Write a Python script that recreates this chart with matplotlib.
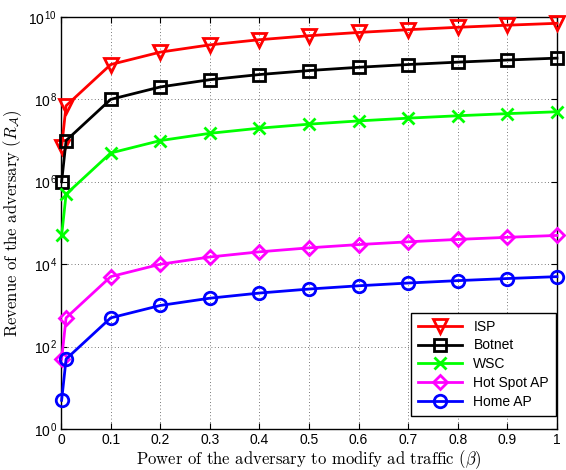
import matplotlib
matplotlib.use("Agg")
import matplotlib.pyplot as plt
from matplotlib.ticker import FixedLocator, NullLocator

plt.rcParams['font.family'] = ['Liberation Sans', 'DejaVu Sans']
plt.rcParams['mathtext.fontset'] = 'custom'
plt.rcParams['mathtext.rm'] = 'Liberation Sans'
plt.rcParams['mathtext.it'] = 'cmmi10'
plt.rcParams['mathtext.cal'] = 'cmsy10'
plt.rcParams['axes.formatter.use_mathtext'] = True

# 對手修改廣告流量的能力 (beta)
beta = [0.001, 0.01, 0.1, 0.2, 0.3, 0.4, 0.5, 0.6, 0.7, 0.8, 0.9, 1.0]

# 各類對手的收益
isp = [7e6, 7e7, 7e8, 1.4e9, 2.1e9, 2.8e9, 3.5e9, 4.2e9, 4.9e9, 5.6e9, 6.3e9, 7e9]
botnet = [1e6, 1e7, 1e8, 2e8, 3e8, 4e8, 5e8, 6e8, 7e8, 8e8, 9e8, 1e9]
wsc = [5e4, 5e5, 5e6, 1e7, 1.5e7, 2e7, 2.5e7, 3e7, 3.5e7, 4e7, 4.5e7, 5e7]
hotspot = [50, 500, 5e3, 1e4, 1.5e4, 2e4, 2.5e4, 3e4, 3.5e4, 4e4, 4.5e4, 5e4]
home = [5, 50, 500, 1e3, 1.5e3, 2e3, 2.5e3, 3e3, 3.5e3, 4e3, 4.5e3, 5e3]

series = [
    ("ISP", isp, (1, 0, 0), "v", 10),
    ("Botnet", botnet, (0, 0, 0), "s", 8),
    ("WSC", wsc, (0, 1, 0), "x", 8),
    ("Hot Spot AP", hotspot, (1, 0, 1), "D", 7),
    ("Home AP", home, (0, 0, 1), "o", 9),
]

fig = plt.figure(figsize=(5.66, 4.70), dpi=100)
ax = fig.add_axes([0.108, 0.087, 0.876, 0.877])

for label, vals, color, marker, ms in series:
    ax.plot(beta, vals, color=color, linewidth=2, marker=marker, markersize=ms,
            markerfacecolor="none", markeredgecolor=color, markeredgewidth=2,
            label=label, clip_on=False, zorder=3)

ax.set_yscale("log")
ax.set_xlim(0, 1)
ax.set_ylim(1, 1e10)
ax.xaxis.set_major_locator(FixedLocator([0, 0.1, 0.2, 0.3, 0.4, 0.5, 0.6, 0.7, 0.8, 0.9, 1]))
ax.set_xticklabels(["0", "0.1", "0.2", "0.3", "0.4", "0.5", "0.6", "0.7", "0.8", "0.9", "1"])
ax.yaxis.set_major_locator(FixedLocator([1, 1e2, 1e4, 1e6, 1e8, 1e10]))
ax.set_yticklabels([r"$10^{0}$", r"$10^{2}$", r"$10^{4}$", r"$10^{6}$", r"$10^{8}$", r"$10^{10}$"])
ax.yaxis.set_minor_locator(NullLocator())
ax.tick_params(direction="in", which="both", top=True, right=True, labelsize=10,
               length=4, pad=3)
ax.grid(True, linestyle=(0, (1, 3)), color="black", linewidth=0.6, alpha=0.7)
for sp in ax.spines.values():
    sp.set_linewidth(1.0)

ax.set_xlabel(r"Power of the adversary to modify ad traffic ($\beta$)",
              family="cmr10", fontsize=12, labelpad=1)
ax.set_ylabel(r"Revenue of the adversary ($R_{\mathcal{A}}$)",
              family="cmr10", fontsize=12, labelpad=3)

leg = ax.legend(loc="lower right", fontsize=10, fancybox=False, framealpha=1,
                edgecolor="black", handlelength=3.2, borderpad=0.5,
                labelspacing=0.35, borderaxespad=0, bbox_to_anchor=(0.998, 0.032))
leg.get_frame().set_linewidth(1.0)

fig.savefig("out.png", dpi=100)
